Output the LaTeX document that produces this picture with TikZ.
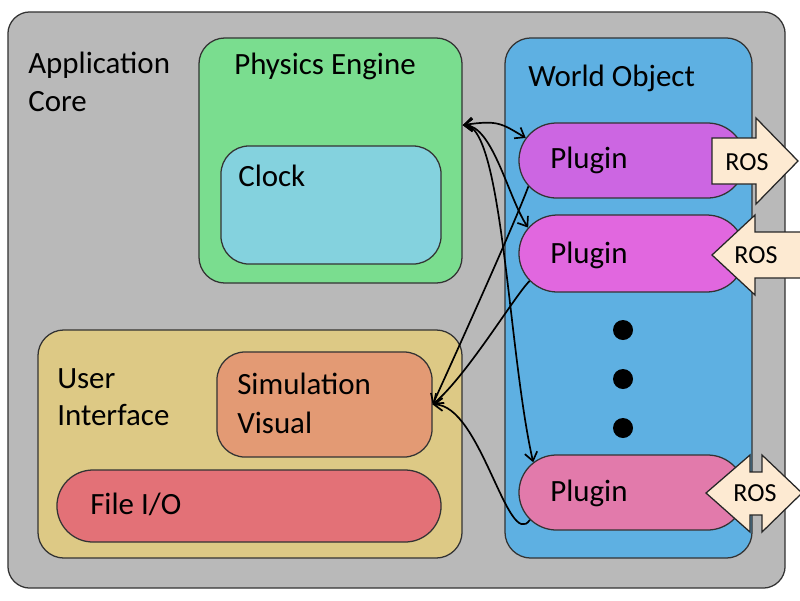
\documentclass[tikz,border=0pt]{standalone}
\usepackage{fontspec}
\setmainfont{Carlito}
\usepackage{tikz}
\usetikzlibrary{arrows.meta,shapes.misc}
\usepackage{xcolor}

\definecolor{coregray}{HTML}{B9B9B9}
\definecolor{physgreen}{HTML}{7ADD8F}
\definecolor{clockblue}{HTML}{84D2DE}
\definecolor{worldblue}{HTML}{5EB0E2}
\definecolor{uitan}{HTML}{DDC985}
\definecolor{simorange}{HTML}{E39A74}
\definecolor{filered}{HTML}{E37177}
\definecolor{plugina}{HTML}{CC66E2}
\definecolor{pluginb}{HTML}{E167DF}
\definecolor{pluginc}{HTML}{E27AAB}
\definecolor{rosbeige}{HTML}{FDEAD2}

\begin{document}
\begin{tikzpicture}[x=0.025cm, y=-0.025cm,
every node/.style={font=\fontsize{22}{27}\selectfont},
block/.style={rectangle, draw=black!80, line width=0.9pt, inner sep=0pt},
pill/.style={rounded rectangle, draw=black!80, line width=0.9pt, inner sep=0pt},
plugin/.style={pill, minimum width=5.65cm, minimum height=1.875cm},
txt/.style={anchor=base west, inner sep=0pt},
ros/.style={fill=rosbeige, draw=black!85, line width=0.9pt},
rostxt/.style={font=\fontsize{18.5}{20}\selectfont, inner sep=0pt},
dot/.style={circle, fill=black, minimum size=0.5cm, inner sep=0pt},
paths/.style={-{Straight Barb[length=6pt,width=9pt]}, line width=1.2pt},
dpaths/.style={{Straight Barb[length=6pt,width=9pt]}-{Straight Barb[length=6pt,width=9pt]}, line width=1.2pt},
]
\useasboundingbox (0,0) rectangle (800,600);

% boxes
\node [block, fill=coregray, rounded corners=0.55cm, minimum width=19.425cm, minimum height=14.4cm] (Core) at (396.5,300) {};
\node [block, fill=physgreen, rounded corners=0.65cm, minimum width=6.575cm, minimum height=6.125cm] (PE) at (330.5,160.5) {};
\node [block, fill=clockblue, rounded corners=0.7cm, minimum width=5.5cm, minimum height=2.95cm] (Clock) at (331,205) {};
\node [block, fill=worldblue, rounded corners=0.65cm, minimum width=6.175cm, minimum height=13cm] (World) at (628.5,298) {};
\node [block, fill=uitan, rounded corners=0.65cm, minimum width=10.6cm, minimum height=5.7cm] (UI) at (250,444) {};
\node [block, fill=simorange, rounded corners=0.7cm, minimum width=5.375cm, minimum height=2.625cm] (SV) at (324.5,404.5) {};
\node [pill, fill=filered, minimum width=9.6cm, minimum height=1.8cm] (FIO) at (249,506) {};

\node [plugin, fill=plugina] (P1) at (632,160.5) {};
\node [plugin, fill=pluginb, minimum height=1.925cm] (P2) at (632,253.5) {};
\node [plugin, fill=pluginc] (P3) at (632,492.5) {};

\foreach \i/\y in {1/330, 2/379, 3/428}
{
\node [dot] (Dot\i) at (623,\y) {};
}

% ROS arrows
\draw [ros] (712,138) -- (756,138) -- (756,118) -- (798,161) -- (756,204) -- (756,184) -- (712,184) -- cycle;
\draw [ros] (712,255) -- (755,215) -- (755,232) -- (805,232) -- (805,278) -- (755,278) -- (755,295) -- cycle;
\draw [ros] (706,493) -- (750,455) -- (750,472) -- (762,472) -- (762,455) -- (802,493) -- (762,532) -- (762,515) -- (750,515) -- (750,532) -- cycle;
\node [rostxt] (ROS1) at (747,162) {ROS};
\node [rostxt] (ROS2) at (756,255) {ROS};
\node [rostxt] (ROS3) at (755,493) {ROS};

% labels
\node [txt] (CoreA) at (28,73) {Application};
\node [txt] (CoreB) at (28,111) {Core};
\node [txt] (PEtxt) at (234,74) {Physics Engine};
\node [txt] (Wtxt) at (528,86) {World Object};
\node [txt] (Ctxt) at (238,186) {Clock};
\node [txt] (UIA) at (57,388) {User};
\node [txt] (UIB) at (57,425) {Interface};
\node [txt] (SVA) at (237,394) {Simulation};
\node [txt] (SVB) at (237,433) {Visual};
\node [txt] (FIOtxt) at (90,514) {File I/O};
\node [txt] (P1txt) at (550,168) {Plugin};
\node [txt] (P2txt) at (550,263) {Plugin};
\node [txt] (P3txt) at (550,501) {Plugin};

% connections
\draw [dpaths] (PE.15) .. controls +(35,-5) and +(-25,-15) .. (P1.168);
\draw [dpaths] (PE.15) .. controls +(30,0) and +(-20,-30) .. (P2.166);
\draw [dpaths] (PE.15) .. controls +(40,0) and +(-25,-110) .. (P3.163);

\draw [paths] (P1.194) .. controls +(-15,40) and +(25,-55) .. (SV.east);
\draw [paths] (P2.195) .. controls +(-15,15) and +(35,-30) .. (SV.east);
\draw [paths] (P3.195) .. controls +(-22,32) and +(48,0) .. (SV.east);

\end{tikzpicture}
\end{document}
